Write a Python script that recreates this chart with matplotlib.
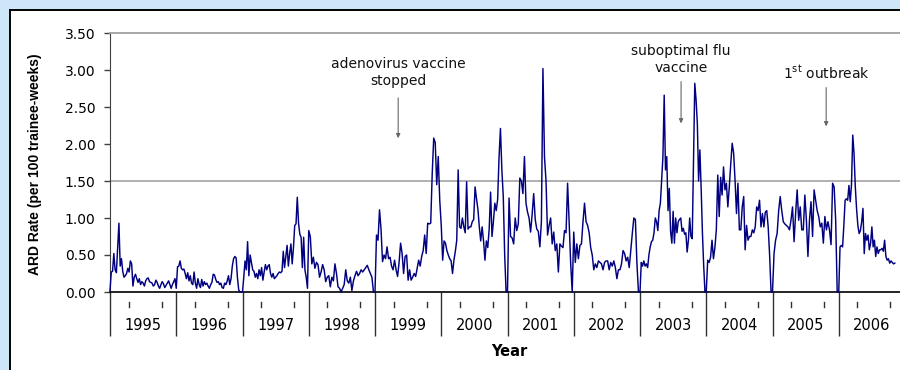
import matplotlib
matplotlib.use("Agg")
import matplotlib.pyplot as plt
from matplotlib.patches import Rectangle
from matplotlib.transforms import blended_transform_factory

plt.rcParams['mathtext.default'] = 'regular'

# ---- data (weekly ARD rate) ----
years = [1995, 1996, 1997, 1998, 1999, 2000, 2001, 2002, 2003, 2004, 2005, 2006]

y1995 = [0.02, 0.27, 0.28, 0.52, 0.30, 0.26, 0.60, 0.93, 0.35, 0.45, 0.28, 0.20, 0.22,
         0.25, 0.32, 0.27, 0.42, 0.38, 0.08, 0.20, 0.24, 0.18, 0.13, 0.18, 0.10, 0.14,
         0.12, 0.08, 0.15, 0.18, 0.19, 0.14, 0.13, 0.12, 0.08, 0.10, 0.16, 0.13, 0.08,
         0.05, 0.10, 0.14, 0.11, 0.06, 0.09, 0.12, 0.15, 0.10, 0.05, 0.10, 0.14, 0.18]
y1996 = [0.05, 0.34, 0.35, 0.42, 0.32, 0.30, 0.31, 0.25, 0.18, 0.26, 0.15, 0.22, 0.12,
         0.10, 0.27, 0.12, 0.05, 0.18, 0.10, 0.06, 0.17, 0.08, 0.14, 0.10, 0.12, 0.08,
         0.05, 0.10, 0.13, 0.24, 0.23, 0.17, 0.13, 0.14, 0.10, 0.12, 0.06, 0.05, 0.12,
         0.10, 0.15, 0.22, 0.10, 0.18, 0.35, 0.45, 0.48, 0.46, 0.20, 0.03, 0.00, 0.00]
y1997 = [0.00, 0.20, 0.42, 0.30, 0.68, 0.22, 0.50, 0.40, 0.30, 0.28, 0.20, 0.25, 0.18,
         0.30, 0.22, 0.33, 0.16, 0.27, 0.37, 0.30, 0.35, 0.37, 0.25, 0.20, 0.25, 0.18,
         0.20, 0.22, 0.25, 0.27, 0.26, 0.28, 0.55, 0.33, 0.48, 0.63, 0.35, 0.52, 0.65,
         0.38, 0.60, 0.90, 0.92, 1.28, 0.93, 0.78, 0.74, 0.33, 0.74, 0.30, 0.20, 0.05]
y1998 = [0.83, 0.75, 0.38, 0.47, 0.32, 0.40, 0.37, 0.20, 0.27, 0.37, 0.30, 0.14, 0.20,
         0.22, 0.07, 0.20, 0.15, 0.38, 0.25, 0.07, 0.05, 0.00, 0.05, 0.10, 0.30, 0.15,
         0.12, 0.20, 0.02, 0.15, 0.22, 0.28, 0.22, 0.25, 0.30, 0.27, 0.30, 0.33, 0.36,
         0.30, 0.25, 0.20, 0.00]
y1999 = [0.00, 0.77, 0.70, 1.11, 0.85, 0.41, 0.50, 0.45, 0.61, 0.45, 0.47, 0.35, 0.30,
         0.43, 0.30, 0.21, 0.40, 0.66, 0.52, 0.25, 0.48, 0.50, 0.16, 0.30, 0.16, 0.20,
         0.25, 0.21, 0.32, 0.43, 0.35, 0.48, 0.56, 0.77, 0.52, 0.93, 0.92, 0.93, 1.60,
         2.08, 2.02, 1.45, 1.83, 1.24]
y2000 = [0.90, 0.43, 0.69, 0.66, 0.56, 0.50, 0.45, 0.42, 0.25, 0.43, 0.55, 0.70, 1.65,
         0.88, 0.86, 1.00, 0.88, 0.80, 1.49, 0.85, 0.88, 0.88, 0.95, 0.98, 1.42, 1.26,
         1.12, 0.88, 0.69, 0.88, 0.69, 0.43, 0.69, 0.60, 0.85, 1.35, 0.75, 0.95, 1.20,
         1.10, 1.25, 1.82, 2.21, 1.65, 1.29, 0.50, 0.00]
y2001 = [0.00, 1.27, 0.75, 0.73, 0.65, 1.00, 0.83, 0.92, 1.54, 1.50, 1.33, 1.83, 1.20,
         1.08, 1.00, 0.81, 1.05, 1.33, 0.98, 0.85, 0.82, 0.61, 0.95, 3.02, 1.83, 1.50,
         0.77, 0.90, 1.00, 0.65, 0.81, 0.56, 0.65, 0.27, 0.65, 0.62, 0.60, 0.83, 0.80,
         1.47, 0.95, 0.39, 0.00]
y2002 = [0.81, 0.40, 0.65, 0.45, 0.63, 0.65, 0.95, 1.20, 0.95, 0.90, 0.80, 0.60, 0.50,
         0.30, 0.38, 0.33, 0.42, 0.40, 0.38, 0.30, 0.40, 0.42, 0.42, 0.30, 0.40, 0.35,
         0.42, 0.33, 0.18, 0.30, 0.30, 0.38, 0.56, 0.52, 0.42, 0.47, 0.33, 0.56, 0.79,
         1.00, 0.98, 0.39, 0.00]
y2003 = [0.00, 0.40, 0.35, 0.42, 0.35, 0.38, 0.33, 0.50, 0.61, 0.68, 0.70, 0.80, 1.00,
         0.95, 0.83, 1.10, 1.20, 1.51, 1.83, 2.66, 1.65, 1.83, 1.10, 1.40, 0.82, 0.66,
         1.09, 0.66, 1.00, 0.80, 0.95, 0.98, 1.00, 0.82, 0.86, 0.78, 0.80, 0.54, 0.70,
         1.00, 0.75, 0.72, 1.80, 2.82, 2.60, 2.28, 1.50, 1.92, 1.40, 0.80, 0.35, 0.00]
y2004 = [0.00, 0.43, 0.40, 0.47, 0.70, 0.45, 0.60, 0.84, 1.58, 1.02, 1.55, 1.31, 1.69,
         1.38, 1.47, 1.15, 1.42, 1.73, 2.01, 1.88, 1.51, 1.06, 1.47, 0.84, 0.84, 1.15,
         1.29, 0.57, 0.90, 0.70, 0.75, 0.75, 0.84, 0.80, 0.88, 1.15, 1.10, 1.24, 0.88,
         1.06, 0.88, 1.08, 1.10, 0.88, 0.50, 0.00]
y2005 = [0.00, 0.52, 0.70, 0.79, 1.10, 1.29, 1.10, 0.95, 0.92, 0.90, 0.88, 0.84, 0.97,
         1.15, 0.68, 1.06, 1.38, 0.97, 1.15, 0.84, 0.84, 1.31, 0.97, 0.48, 0.97, 1.22,
         0.75, 1.38, 1.24, 1.10, 1.02, 0.88, 0.93, 0.66, 1.02, 0.84, 0.95, 0.84, 0.64,
         1.47, 1.42, 0.97, 0.00]
y2006 = [0.00, 0.61, 0.63, 0.61, 0.90, 1.24, 1.26, 1.24, 1.44, 1.22, 1.45, 2.12, 1.87,
         1.42, 1.12, 0.90, 0.79, 0.83, 0.95, 1.13, 0.52, 0.79, 0.70, 0.77, 0.57, 0.66,
         0.88, 0.61, 0.70, 0.48, 0.61, 0.52, 0.57, 0.57, 0.59, 0.55, 0.70, 0.48, 0.43,
         0.45, 0.39, 0.42, 0.40, 0.38, 0.39]

series = [y1995, y1996, y1997, y1998, y1999, y2000, y2001, y2002, y2003, y2004, y2005]
weeks_per_year = 52

yticks = [0.0, 0.5, 1.0, 1.5, 2.0, 2.5, 3.0, 3.5]
year_labels = [str(y) for y in years]

annotations = [
    ("adenovirus vaccine\nstopped", 1999.35, 2.97, 2.66, 2.04),
    ("suboptimal flu\nvaccine", 2003.62, 3.14, 2.88, 2.24),
    (r"1$^{st}$ outbreak", 2005.81, 2.97, 2.80, 2.20),
]

# ---- build x positions ----
xs, ys = [], []
for yr, vals in zip(years[:-1], series):
    n = len(vals)
    xs += [yr + i / n for i in range(n)]
    ys += vals
xs += [2006 + i / weeks_per_year for i in range(len(y2006))]
ys += y2006

# ---- figure ----
W, H = 900, 370
fig = plt.figure(figsize=(9, 3.7), dpi=100)
fig.patch.set_facecolor('#cde7f9')
panel = Rectangle((9.5 / W, -0.1), 1.2, 1 - 9.5 / H + 0.1,
                  transform=fig.transFigure, facecolor='white',
                  edgecolor='black', linewidth=1.4, zorder=-10)
fig.patches.append(panel)

left, right, top, bottom = 110, 905, 33, 292
ax = fig.add_axes([left / W, 1 - bottom / H, (right - left) / W, (bottom - top) / H])
ax.set_zorder(5)
ax.patch.set_alpha(0)

ax.plot(xs, ys, color='#000080', lw=1.05, clip_on=False, zorder=3)
ax.axhline(1.5, color='#aaaaaa', lw=1.3, zorder=1)

ax.set_xlim(1995, 2007)
ax.set_ylim(0, 3.5)

ax.set_yticks(yticks)
ax.set_yticklabels([f"{t:.2f}" for t in yticks], fontsize=10, family='DejaVu Sans')
ax.tick_params(axis='y', direction='out', length=4.5, width=1, color='#404040', pad=6)

# year separators as long ticks
ax.set_xticks(years + [2007])
ax.set_xticklabels([])
ax.tick_params(axis='x', direction='out', length=32, width=1, color='#303030')

trans = blended_transform_factory(ax.transData, ax.transAxes)
for yr, lab in zip(years, year_labels):
    ax.text(yr + 0.5, -0.128, lab, transform=trans, ha='center', va='center',
            fontsize=10.5, family='DejaVu Sans', clip_on=False)
    for off in (0.28, 0.78):
        ax.plot([yr + off, yr + off], [-0.040, -0.056], transform=trans,
                color='#303030', lw=1, clip_on=False)

ax.spines['right'].set_visible(False)
ax.spines['top'].set_color('#a0a0a0')
ax.spines['top'].set_linewidth(1.3)
ax.spines['left'].set_color('#404040')
ax.spines['bottom'].set_color('black')
ax.spines['bottom'].set_linewidth(1.2)

for text, x, ty, a0, a1 in annotations:
    ax.text(x, ty, text, ha='center', va='center', fontsize=10,
            family='DejaVu Sans', color='#111111', linespacing=1.25)
    ax.annotate('', xy=(x, a1), xytext=(x, a0),
                arrowprops=dict(arrowstyle='-|>,head_length=0.25,head_width=0.12',
                                color='#666666', lw=0.8))

fig.text(35 / W, 1 - 164 / H, "ARD Rate (per 100 trainee-weeks)", rotation=90,
         ha='center', va='center', fontsize=10, fontweight='bold',
         family='Liberation Sans')
fig.text(509 / W, 1 - 352 / H, "Year", ha='center', va='center', fontsize=10.5,
         fontweight='bold', family='DejaVu Sans')

fig.savefig("out.png", dpi=100, facecolor=fig.get_facecolor())
